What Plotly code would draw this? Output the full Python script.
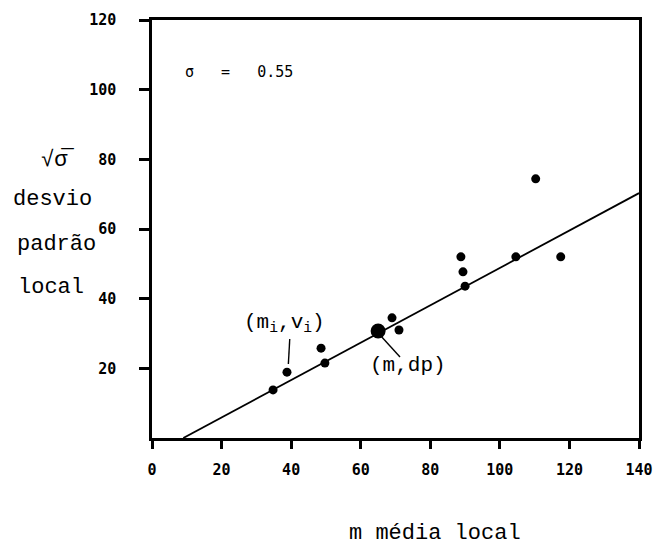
import plotly.graph_objects as go

# data
m_vals = [34.8, 38.8, 48.6, 49.7, 69.0, 71.0, 88.8, 89.4, 90.0, 104.6, 110.3, 117.5]
dp_vals = [13.8, 18.9, 25.8, 21.5, 34.5, 31.0, 52.0, 47.7, 43.6, 52.0, 74.4, 52.0]
mean_point_x = [65.0]
mean_point_y = [30.7]
fit_x = [9.0, 140.0]
fit_y = [0.0, 70.3]
x_ticks = [0, 20, 40, 60, 80, 100, 120, 140]
y_ticks = [20, 40, 60, 80, 100, 120]

mono = "Liberation Mono"
tickfont = dict(family="DejaVu Sans Mono", size=15, color="black", weight="bold")

Y0 = 438.0      # pixel of y=0 in the reference
YS = 3.483      # pixels per unit


def yv(pix):
    return (Y0 - pix) / YS


fig = go.Figure()
fig.add_trace(go.Scatter(x=fit_x, y=fit_y, mode="lines",
                         line=dict(color="black", width=1.8), showlegend=False))
fig.add_trace(go.Scatter(x=m_vals, y=dp_vals, mode="markers",
                         marker=dict(color="black", size=9), showlegend=False))
fig.add_trace(go.Scatter(x=mean_point_x, y=mean_point_y, mode="markers",
                         marker=dict(color="black", size=15), showlegend=False))

fig.update_xaxes(range=[0, 140], tickvals=x_ticks, showgrid=False, zeroline=False,
                 showline=True, linecolor="black", linewidth=2.5, mirror=True,
                 ticks="outside", ticklen=8, tickwidth=2.5, tickcolor="black",
                 tickfont=tickfont, ticklabelstandoff=8, automargin=False)
fig.update_yaxes(range=[0, 120], tickvals=y_ticks, showgrid=False, zeroline=False,
                 showline=True, linecolor="black", linewidth=2.5, mirror=True,
                 ticks="outside", ticklen=10, tickwidth=2.5, tickcolor="black",
                 tickfont=tickfont, ticklabelstandoff=20, automargin=False)

ann = []
ann.append(dict(x=9.0, y=yv(72), xref="x", yref="y", text="σ   =   0.55", showarrow=False,
                xanchor="left", yanchor="middle",
                font=dict(family="DejaVu Sans Mono", size=15, color="black")))
# y title lines: (text, centre x pixel, centre y pixel)
ytitle = [("√σ\u0305", 57, 160), ("desvio", 52, 200), ("padrão", 56, 245), ("local", 51, 288)]
for txt, xpix, ypix in ytitle:
    ann.append(dict(x=0, y=yv(ypix), xref="paper", yref="y", text=txt,
                    showarrow=False, xanchor="center", yanchor="middle",
                    xshift=xpix - 152,
                    font=dict(family=mono, size=22, color="black")))
ann.append(dict(x=0, y=0, xref="paper", yref="paper",
                text="m média local", showarrow=False, xanchor="center", yanchor="middle",
                xshift=435 - 152, yshift=438 - 533,
                font=dict(family=mono, size=22, color="black")))
# point labels
ann.append(dict(x=38.0, y=yv(324), xref="x", yref="y",
                text="(m<sub>i</sub>,v<sub>i</sub>)", showarrow=False,
                xanchor="center", yanchor="middle",
                font=dict(family=mono, size=21, color="black")))
ann.append(dict(x=73.5, y=yv(366), xref="x", yref="y", text="(m,dp)", showarrow=False,
                xanchor="center", yanchor="middle",
                font=dict(family=mono, size=21, color="black")))
fig.update_layout(annotations=ann)

# leader lines
fig.add_shape(type="line", x0=39.6, y0=yv(339), x1=39.2, y1=yv(364), xref="x", yref="y",
              line=dict(color="black", width=1.4))
fig.add_shape(type="line", x0=65.8, y0=yv(336), x1=71.3, y1=yv(357), xref="x", yref="y",
              line=dict(color="black", width=1.4))

fig.update_layout(width=656, height=548, plot_bgcolor="white", paper_bgcolor="white",
                  margin=dict(l=152, r=17, t=20, b=110), showlegend=False)

fig.write_html("out.html", config={"displayModeBar": False},
               post_script="document.body.style.margin='0';document.body.style.overflow='hidden';")
